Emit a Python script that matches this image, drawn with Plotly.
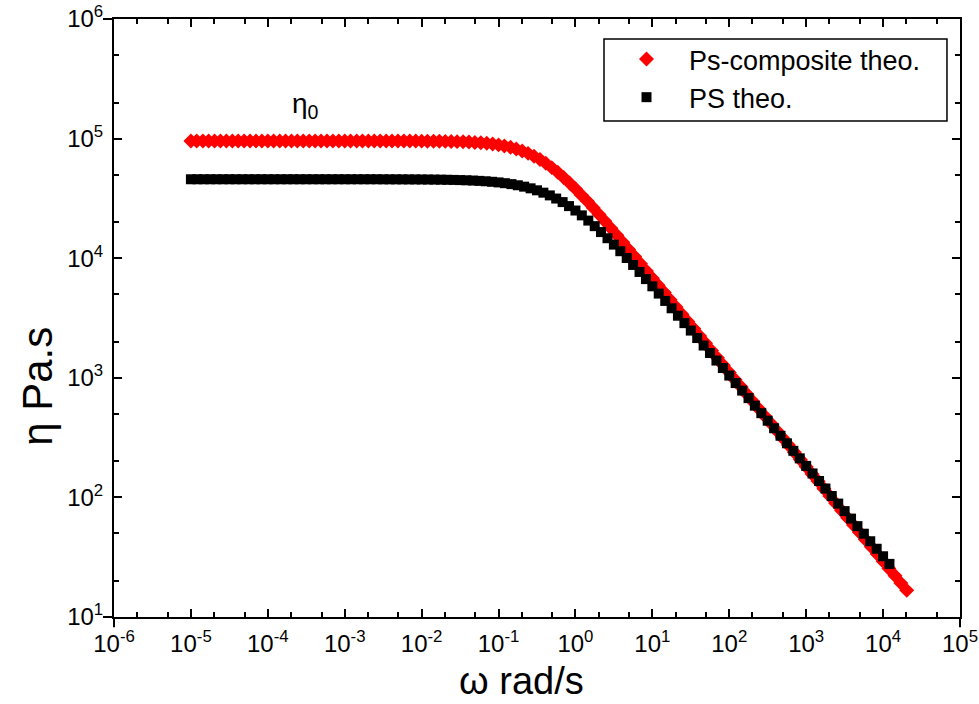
import plotly.graph_objects as go

# ---- data ----
omega_composite = [
    1.00e-5, 1.19e-5, 1.43e-5, 1.70e-5, 2.03e-5, 2.42e-5, 2.89e-5, 3.46e-5, 4.12e-5, 4.92e-5, 5.88e-5, 7.02e-5, 8.38e-5,
    1.00e-4, 1.19e-4, 1.43e-4, 1.70e-4, 2.03e-4, 2.42e-4, 2.89e-4, 3.46e-4, 4.12e-4, 4.92e-4, 5.88e-4, 7.02e-4, 8.38e-4,
    1.00e-3, 1.19e-3, 1.43e-3, 1.70e-3, 2.03e-3, 2.42e-3, 2.89e-3, 3.46e-3, 4.12e-3, 4.92e-3, 5.88e-3, 7.02e-3, 8.38e-3,
    1.00e-2, 1.19e-2, 1.43e-2, 1.70e-2, 2.03e-2, 2.42e-2, 2.89e-2, 3.46e-2, 4.12e-2, 4.92e-2, 5.88e-2, 7.02e-2, 8.38e-2,
    1.00e-1, 1.19e-1, 1.43e-1, 1.70e-1, 2.03e-1, 2.42e-1, 2.89e-1, 3.46e-1, 4.12e-1, 4.92e-1, 5.88e-1, 7.02e-1, 8.38e-1,
    1.00e0, 1.19e0, 1.43e0, 1.70e0, 2.03e0, 2.42e0, 2.89e0, 3.46e0, 4.12e0, 4.92e0, 5.88e0, 7.02e0, 8.38e0,
    1.00e1, 1.19e1, 1.43e1, 1.70e1, 2.03e1, 2.42e1, 2.89e1, 3.46e1, 4.12e1, 4.92e1, 5.88e1, 7.02e1, 8.38e1,
    1.00e2, 1.19e2, 1.43e2, 1.70e2, 2.03e2, 2.42e2, 2.89e2, 3.46e2, 4.12e2, 4.92e2, 5.88e2, 7.02e2, 8.38e2,
    1.00e3, 1.19e3, 1.43e3, 1.70e3, 2.03e3, 2.42e3, 2.89e3, 3.46e3, 4.12e3, 4.92e3, 5.88e3, 7.02e3, 8.38e3,
    1.00e4, 1.19e4, 1.43e4, 1.70e4, 2.03e4,
]
eta_composite = [
    95500, 95500, 95500, 95500, 95500, 95500, 95500, 95500, 95500, 95500, 95500, 95500, 95500,
    95500, 95500, 95500, 95500, 95500, 95500, 95500, 95500, 95500, 95500, 95500, 95500, 95500,
    95500, 95500, 95500, 95500, 95500, 95500, 95500, 95500, 95500, 95500, 95390, 95350, 95310,
    95250, 95180, 95080, 94960, 94790, 94580, 94310, 93960, 93510, 92930, 92200, 91260, 90080,
    88620, 86810, 84600, 81960, 78840, 75270, 71240, 66830, 62110, 57200, 52230, 47300, 42530,
    38030, 33800, 29910, 26370, 23180, 20330, 17790, 15550, 13570, 11840, 10320, 8987, 7826,
    6814, 5929, 5159, 4487, 3903, 3394, 2952, 2567, 2233, 1942, 1688, 1468, 1276,
    1110, 964.9, 838.9, 729.4, 634.2, 551.4, 479.5, 416.9, 362.5, 315.1, 274.0, 238.2, 207.1,
    180.1, 156.6, 136.2, 118.4, 102.9, 89.5, 77.8, 67.7, 58.8, 51.1, 44.5, 38.7, 33.6,
    29.2, 25.4, 22.1, 19.2, 16.7,
]

omega_ps = [
    1.00e-5, 1.21e-5, 1.47e-5, 1.78e-5, 2.15e-5, 2.61e-5, 3.16e-5, 3.83e-5, 4.64e-5, 5.62e-5, 6.81e-5, 8.25e-5,
    1.00e-4, 1.21e-4, 1.47e-4, 1.78e-4, 2.15e-4, 2.61e-4, 3.16e-4, 3.83e-4, 4.64e-4, 5.62e-4, 6.81e-4, 8.25e-4,
    1.00e-3, 1.21e-3, 1.47e-3, 1.78e-3, 2.15e-3, 2.61e-3, 3.16e-3, 3.83e-3, 4.64e-3, 5.62e-3, 6.81e-3, 8.25e-3,
    1.00e-2, 1.21e-2, 1.47e-2, 1.78e-2, 2.15e-2, 2.61e-2, 3.16e-2, 3.83e-2, 4.64e-2, 5.62e-2, 6.81e-2, 8.25e-2,
    1.00e-1, 1.21e-1, 1.47e-1, 1.78e-1, 2.15e-1, 2.61e-1, 3.16e-1, 3.83e-1, 4.64e-1, 5.62e-1, 6.81e-1, 8.25e-1,
    1.00e0, 1.21e0, 1.47e0, 1.78e0, 2.15e0, 2.61e0, 3.16e0, 3.83e0, 4.64e0, 5.62e0, 6.81e0, 8.25e0,
    1.00e1, 1.21e1, 1.47e1, 1.78e1, 2.15e1, 2.61e1, 3.16e1, 3.83e1, 4.64e1, 5.62e1, 6.81e1, 8.25e1,
    1.00e2, 1.21e2, 1.47e2, 1.78e2, 2.15e2, 2.61e2, 3.16e2, 3.83e2, 4.64e2, 5.62e2, 6.81e2, 8.25e2,
    1.00e3, 1.21e3, 1.47e3, 1.78e3, 2.15e3, 2.61e3, 3.16e3, 3.83e3, 4.64e3, 5.62e3, 6.81e3, 8.25e3,
    1.00e4, 1.21e4,
]
eta_ps = [
    45710, 45710, 45710, 45710, 45710, 45710, 45710, 45710, 45710, 45710, 45710, 45710,
    45710, 45710, 45710, 45710, 45710, 45710, 45710, 45710, 45710, 45710, 45710, 45710,
    45710, 45710, 45710, 45710, 45710, 45710, 45660, 45650, 45640, 45620, 45590, 45560,
    45530, 45480, 45420, 45350, 45250, 45140, 44990, 44810, 44590, 44310, 43970, 43540,
    43020, 42390, 41630, 40720, 39640, 38390, 36950, 35320, 33510, 31540, 29450, 27270,
    25040, 22810, 20630, 18530, 16540, 14690, 12990, 11440, 10040, 8785, 7672, 6687,
    5820, 5059, 4393, 3812, 3305, 2865, 2482, 2150, 1861, 1611, 1394, 1207,
    1044, 903.5, 781.7, 676.3, 585.1, 506.1, 437.8, 378.7, 327.6, 283.4, 245.1, 212.0,
    183.4, 158.6, 137.2, 118.7, 102.7, 88.8, 76.8, 66.5, 57.5, 49.7, 43.0, 37.2,
    32.2, 27.8,
]

x_tick_vals = [1e-6, 1e-5, 1e-4, 1e-3, 1e-2, 1e-1, 1e0, 1e1, 1e2, 1e3, 1e4, 1e5]
x_tick_text = ["10<sup>-6</sup>", "10<sup>-5</sup>", "10<sup>-4</sup>", "10<sup>-3</sup>",
               "10<sup>-2</sup>", "10<sup>-1</sup>", "10<sup>0</sup>", "10<sup>1</sup>",
               "10<sup>2</sup>", "10<sup>3</sup>", "10<sup>4</sup>", "10<sup>5</sup>"]
y_tick_vals = [1e1, 1e2, 1e3, 1e4, 1e5, 1e6]
y_tick_text = ["10<sup>1</sup>", "10<sup>2</sup>", "10<sup>3</sup>",
               "10<sup>4</sup>", "10<sup>5</sup>", "10<sup>6</sup>"]

FONT = "Liberation Sans, Arial, sans-serif"

fig = go.Figure()
fig.add_trace(go.Scatter(
    x=omega_composite, y=eta_composite, mode="markers", name="Ps-composite theo.",
    marker=dict(symbol="diamond", size=11.5, color="#ff0000", line=dict(width=0)),
))
fig.add_trace(go.Scatter(
    x=omega_ps, y=eta_ps, mode="markers", name="PS theo.",
    marker=dict(symbol="square", size=10, color="#000000", line=dict(width=0)),
))

axis_common = dict(
    type="log", showgrid=False, zeroline=False, automargin=False,
    showline=True, linecolor="black", linewidth=2, mirror="allticks",
    ticks="inside", ticklen=8, tickwidth=1.5, tickcolor="black",
    ticklabeloverflow="allow",
    tickfont=dict(family=FONT, size=24, color="black"),
    minor=dict(ticks="inside", ticklen=5, tickwidth=1.5, tickcolor="black", showgrid=False),
)

fig.update_xaxes(range=[-6, 5], tickvals=x_tick_vals, ticktext=x_tick_text,
                 ticklabelstandoff=4, **axis_common)
fig.update_yaxes(range=[1, 6], tickvals=y_tick_vals, ticktext=y_tick_text,
                 ticklabelstandoff=4, **axis_common)

# axis titles (placed as in the original figure)
fig.add_annotation(text="ω rad/s", xref="paper", yref="paper", x=0.482, y=-0.107,
                   xanchor="center", yanchor="middle",
                   showarrow=False, font=dict(family=FONT, size=38, color="black"))
fig.add_annotation(text="η Pa.s", xref="paper", yref="paper", x=-0.0898, y=0.385,
                   xanchor="center", yanchor="middle", textangle=-90, showarrow=False,
                   font=dict(family=FONT, size=42, color="black"))
fig.add_annotation(text="η<sub>0</sub>", xref="paper", yref="paper", x=0.226, y=0.855,
                   xanchor="center", yanchor="middle",
                   showarrow=False, font=dict(family=FONT, size=28, color="black"))

# Origin-style overshoot of the frame lines at the corners
for yy in (0, 1):
    fig.add_shape(type="line", xref="paper", yref="paper", x0=-0.013, x1=0, y0=yy, y1=yy,
                  line=dict(color="black", width=2))
for xx in (0, 1):
    fig.add_shape(type="line", xref="paper", yref="paper", x0=xx, x1=xx, y0=-0.017, y1=0,
                  line=dict(color="black", width=2))

# legend frame
fig.add_shape(type="rect", xref="paper", yref="paper", x0=0.5792, x1=0.9846, y0=0.8294, y1=0.9666,
              line=dict(color="black", width=1.5), fillcolor="rgba(0,0,0,0)", layer="above")

fig.update_layout(
    width=979, height=704,
    margin=dict(l=114, r=19, t=19, b=87),
    paper_bgcolor="white", plot_bgcolor="white",
    showlegend=True,
    legend=dict(x=0.5792, y=0.9732, xanchor="left", yanchor="top",
                borderwidth=0, bgcolor="rgba(0,0,0,0)",
                font=dict(family=FONT, size=27, color="black"),
                tracegroupgap=0, itemwidth=75),
)

# remove the default 8px page margin so the figure sits at the window's corner
fig.write_html("out.html", config={"displayModeBar": False},
               post_script="document.body.style.margin='0px';")
